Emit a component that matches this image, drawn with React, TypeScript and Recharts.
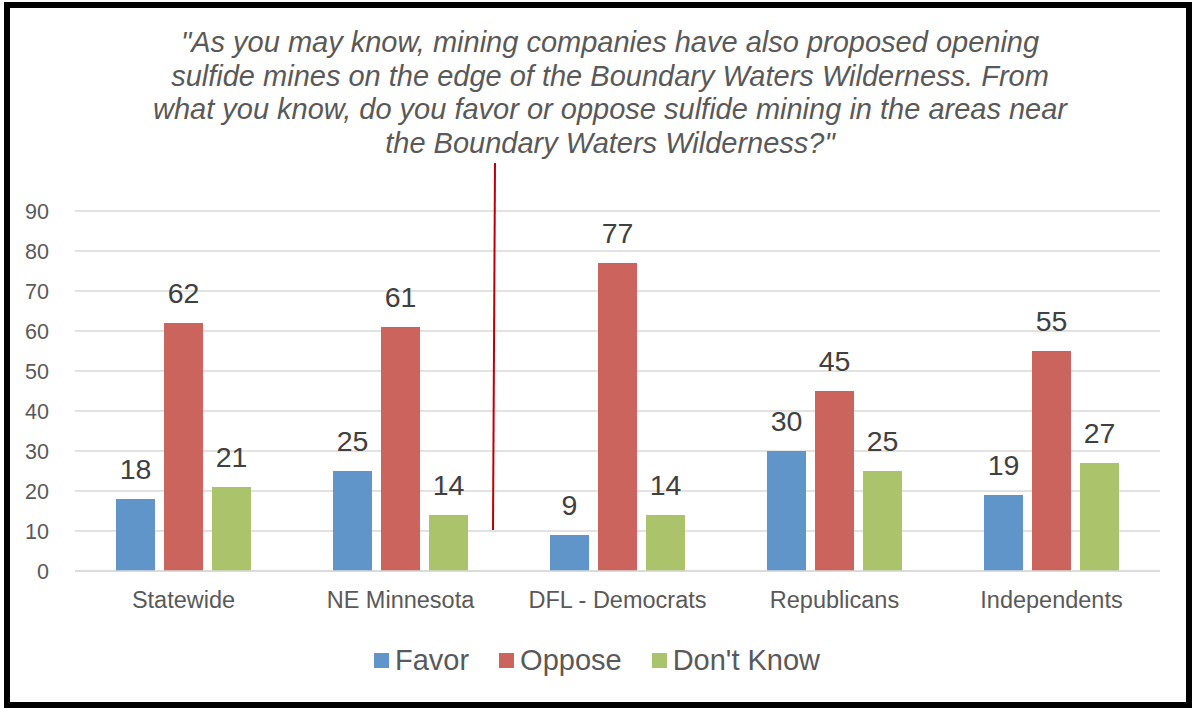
import { BarChart, Bar, XAxis, YAxis, CartesianGrid, Legend, LabelList } from "recharts";

const groups = ["Statewide", "NE Minnesota", "DFL - Democrats", "Republicans", "Independents"];
const favor = [18, 25, 9, 30, 19];
const oppose = [62, 61, 77, 45, 55];
const dontKnow = [21, 14, 14, 25, 27];
const yTicks = [0, 10, 20, 30, 40, 50, 60, 70, 80, 90];

const titleLines = [
  "\"As you may know, mining companies have also proposed opening",
  "sulfide mines on the edge of the Boundary Waters Wilderness. From",
  "what you know, do you favor or oppose sulfide mining in the areas near",
  "the Boundary Waters Wilderness?\"",
];

const series = [
  { key: "favor", name: "Favor", color: "#6095c9" },
  { key: "oppose", name: "Oppose", color: "#cc645e" },
  { key: "dontKnow", name: "Don't Know", color: "#abc46b" },
];

const data = groups.map((g, i) => ({
  group: g,
  favor: favor[i],
  oppose: oppose[i],
  dontKnow: dontKnow[i],
}));

const FONT = "'Liberation Sans', Arial, sans-serif";
const GREY = "#595959";

// legend drawn by hand so the spacing matches the original
function LegendRow() {
  return (
    <div style={{ display: "flex", justifyContent: "center", alignItems: "center", height: 30, fontFamily: FONT }}>
      {series.map((s, i) => (
        <div key={s.key} style={{ display: "flex", alignItems: "center", marginLeft: i === 0 ? 0 : 30 }}>
          <div style={{ width: 15, height: 15, background: s.color, marginRight: 6 }} />
          <span style={{ fontSize: 29, color: GREY }}>{s.name}</span>
        </div>
      ))}
    </div>
  );
}

export default function App() {
  return (
    <div style={{ position: "absolute", left: 0, top: 0, width: 1194, height: 708, background: "#fff", fontFamily: FONT }}>
      <div
        style={{
          position: "absolute",
          left: 110,
          top: 26,
          width: 1000,
          textAlign: "center",
          fontStyle: "italic",
          fontSize: 29,
          lineHeight: "33.5px",
          color: GREY,
        }}
      >
        {titleLines.map((l) => (
          <div key={l}>{l}</div>
        ))}
      </div>
      <div style={{ position: "absolute", left: 0, top: 0 }}>
        <BarChart
          width={1194}
          height={708}
          data={data}
          margin={{ top: 211, right: 34, bottom: 97, left: 0 }}
          barSize={39}
          barGap={9}
        >
          <CartesianGrid vertical={false} stroke="#d9d9d9" strokeWidth={1.5} />
          <XAxis
            dataKey="group"
            height={40}
            tickLine={false}
            tickSize={0}
            tickMargin={20}
            axisLine={{ stroke: "#d9d9d9", strokeWidth: 1.5 }}
            tick={{ fill: GREY, fontSize: 23.5, fontFamily: FONT }}
          />
          <YAxis
            width={75}
            domain={[0, 90]}
            ticks={yTicks}
            axisLine={false}
            tickLine={false}
            tickSize={0}
            tickMargin={26}
            tick={{ fill: GREY, fontSize: 21.5, fontFamily: FONT }}
          />
          <Legend
            verticalAlign="middle"
            layout="horizontal"
            align="center"
            wrapperStyle={{ top: 645, left: 0, width: 1194 }}
            content={() => <LegendRow />}
          />
          {series.map((s) => (
            <Bar key={s.key} dataKey={s.key} name={s.name} fill={s.color} isAnimationActive={false}>
              <LabelList
                dataKey={s.key}
                position="top"
                offset={20}
                style={{ fill: "#404040", fontSize: 28.5, fontFamily: FONT }}
              />
            </Bar>
          ))}
        </BarChart>
      </div>
      {/* red divider annotation between the regional and party groups */}
      <svg style={{ position: "absolute", left: 0, top: 0 }} width={1194} height={708} pointerEvents="none">
        <line x1={495} y1={163} x2={493} y2={530} stroke="#c00000" strokeWidth={2} />
      </svg>
      <div
        style={{
          position: "absolute",
          left: 4,
          top: 2,
          width: 1188,
          height: 706,
          border: "6px solid #000",
          boxSizing: "border-box",
          pointerEvents: "none",
        }}
      />
    </div>
  );
}
